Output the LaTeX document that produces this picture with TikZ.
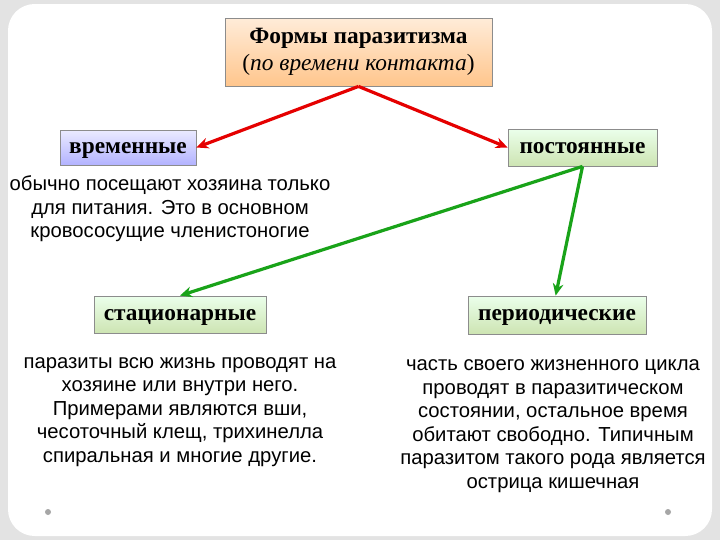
\documentclass[tikz,border=0pt]{standalone}
\usepackage{fontspec}
\usetikzlibrary{arrows.meta}
\setmainfont{Liberation Serif}
\newfontfamily\bodyf{Liberation Sans}
\begin{document}
\begin{tikzpicture}[x=0.75pt,y=-0.75pt,
  hbox/.style={draw=black!45, line width=0.6pt, font=\fontsize{17.5}{20}\selectfont\bfseries, inner sep=0pt, align=center},
  one/.style={text height=12pt, text depth=3.5pt},
  body/.style={font=\bodyf\fontsize{15.2}{17.6}\selectfont, align=center, inner sep=0pt},
  arr/.style={-{Stealth[length=9pt,width=8pt]}, line width=2.4pt}]
\useasboundingbox (0,0) rectangle (720,540);
\fill[gray!22] (0,0) rectangle (720,540);
\fill[white, rounded corners=20pt] (8,4) rectangle (712,536);
\node[hbox, minimum width=267*0.75pt, minimum height=68*0.75pt,
  top color=orange!15, bottom color=orange!45] (top) at (358.5,52)
  {Формы паразитизма\\\mdseries(\textit{по времени контакта})};
\node[hbox, one, minimum width=136*0.75pt, minimum height=35*0.75pt,
  top color=blue!8, bottom color=blue!30] (vr) at (128,147.5) {временные};
\node[hbox, one, minimum width=149*0.75pt, minimum height=37*0.75pt,
  top color=green!8, bottom color=green!30!olive!30] (po) at (582.5,147.5) {постоянные};
\node[hbox, one, minimum width=172*0.75pt, minimum height=37*0.75pt,
  top color=green!8, bottom color=green!30!olive!30] (st) at (180,314.5) {стационарные};
\node[hbox, one, minimum width=178*0.75pt, minimum height=38*0.75pt,
  top color=green!8, bottom color=green!30!olive!30] (pe) at (557,315) {периодические};
\node[body] (t1) at (170,209) {обычно посещают хозяина только\\для питания. Это в основном\\кровососущие членистоногие};
\node[body] (t2) at (180,412) {паразиты всю жизнь проводят на\\хозяине или внутри него.\\Примерами являются вши,\\чесоточный клещ, трихинелла\\спиральная и многие другие.};
\node[body] (t3) at (553,426) {часть своего жизненного цикла\\проводят в паразитическом\\состоянии, остальное время\\обитают свободно. Типичным\\паразитом такого рода является\\острица кишечная};
\draw[arr, red!90!black] (top.south) -- (vr.east);
\draw[arr, red!90!black] (top.south) -- (po.west);
\draw[arr, green!60!black!90] (po.south) -- (st.north);
\draw[arr, green!60!black!90] (po.south) -- ([xshift=-1pt]pe.north);
\fill[gray!70] (48,512) circle (3) (668,512) circle (3);
\end{tikzpicture}
\end{document}
